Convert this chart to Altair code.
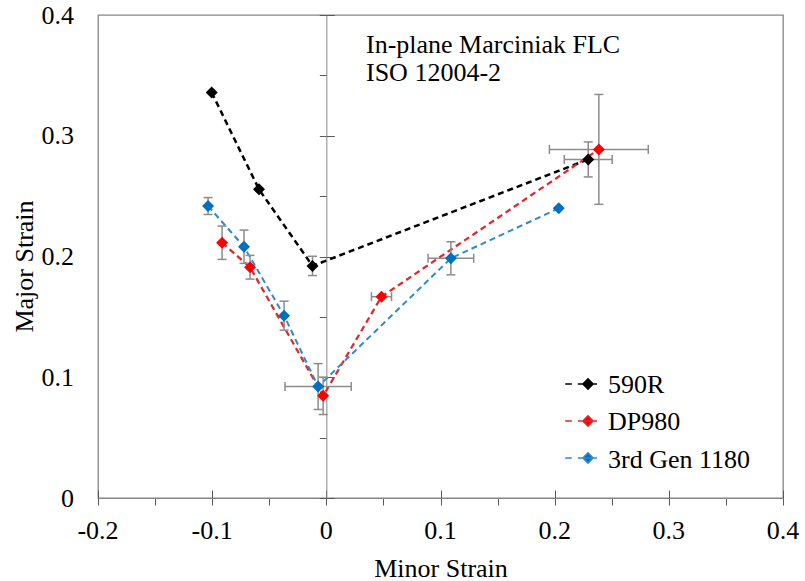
import altair as alt
import pandas as pd

# ---------------- data ----------------
series_names = ["590R", "DP980", "3rd Gen 1180"]
marker_colors = ["#000000", "#FF0000", "#0070C0"]
line_colors = ["#000000", "#E3262B", "#2E8BC9"]

r590_minor = [-0.1004, -0.0590, -0.0121, 0.2294]
r590_major = [0.3358, 0.2556, 0.1922, 0.2804]
r590_minor_err = [0, 0, 0, 0.021]
r590_major_err = [0, 0, 0.008, 0.0145]

dp980_minor = [-0.0913, -0.0668, -0.0028, 0.0483, 0.2387]
dp980_major = [0.2114, 0.1911, 0.0846, 0.1667, 0.2887]
dp980_minor_err = [0, 0, 0, 0.0088, 0.0433]
dp980_major_err = [0.0138, 0.0098, 0.0155, 0, 0.0455]

gen3_minor = [-0.1036, -0.0721, -0.0370, -0.0072, 0.1091, 0.2036]
gen3_major = [0.2418, 0.2081, 0.1510, 0.0923, 0.1985, 0.2399]
gen3_minor_err = [0, 0, 0, 0.029, 0.020, 0]
gen3_major_err = [0.007, 0.0138, 0.012, 0.019, 0.0137, 0]

x_ticks_all = [-0.2, -0.15, -0.1, -0.05, 0, 0.05, 0.1, 0.15, 0.2, 0.25, 0.3, 0.35, 0.4]
x_ticks_major = [-0.2, -0.1, 0, 0.1, 0.2, 0.3, 0.4]
x_tick_labels = ["-0.2", "-0.1", "0", "0.1", "0.2", "0.3", "0.4"]
y_ticks_all = [0, 0.05, 0.1, 0.15, 0.2, 0.25, 0.3, 0.35, 0.4]
y_ticks_major = [0, 0.1, 0.2, 0.3, 0.4]
y_tick_labels = ["0", "0.1", "0.2", "0.3", "0.4"]

annotation_lines = ["In-plane Marciniak FLC", "ISO 12004-2"]
x_title = "Minor Strain"
y_title = "Major Strain"

# ---------------- tables ----------------
rows = []
for name, xs, ys, xe, ye in [
    (series_names[0], r590_minor, r590_major, r590_minor_err, r590_major_err),
    (series_names[1], dp980_minor, dp980_major, dp980_minor_err, dp980_major_err),
    (series_names[2], gen3_minor, gen3_major, gen3_minor_err, gen3_major_err),
]:
    for i in range(len(xs)):
        rows.append({"series": name, "idx": i, "minor": xs[i], "major": ys[i],
                     "xerr": xe[i], "yerr": ye[i]})
df = pd.DataFrame(rows)
df["xlo"] = df["minor"] - df["xerr"]
df["xhi"] = df["minor"] + df["xerr"]
df["ylo"] = df["major"] - df["yerr"]
df["yhi"] = df["major"] + df["yerr"]

df_y = df[df["yerr"] > 0].copy()
df_x = df[df["xerr"] > 0].copy()
ycaps = pd.concat([
    pd.DataFrame({"minor": df_y["minor"], "major": df_y["ylo"]}),
    pd.DataFrame({"minor": df_y["minor"], "major": df_y["yhi"]}),
])
xcaps = pd.concat([
    pd.DataFrame({"minor": df_x["xlo"], "major": df_x["major"]}),
    pd.DataFrame({"minor": df_x["xhi"], "major": df_x["major"]}),
])
xlab_df = pd.DataFrame({"v": x_ticks_major, "t": x_tick_labels})
ylab_df = pd.DataFrame({"v": y_ticks_major, "t": y_tick_labels})

# ---------------- styles ----------------
FONT = "Liberation Serif"
FS = 26
AX_GRAY = "#868686"
TICK_GRAY = "#595959"
ERR_GRAY = "#8C8C8C"
W, H = 685, 483
X0_PIX = W * (0.2 / 0.6)  # pixel position of minor = 0
LEG_X, LEG_Y, LEG_ROW = 477, 356, 37.5

xscale = alt.Scale(domain=[-0.2, 0.4], nice=False, zero=False)
yscale = alt.Scale(domain=[0, 0.4], nice=False, zero=False)

axis_x_main = alt.Axis(
    orient="bottom", values=x_ticks_all, tickSize=7, tickColor=TICK_GRAY,
    domain=True, domainColor=AX_GRAY, grid=False, labels=False,
    title=x_title, titleFont=FONT, titleFontSize=FS, titleFontWeight="normal",
    titleColor="black", titleX=W / 2, titleY=78, titleAlign="center",
    titleBaseline="alphabetic",
)
axis_x_cross = alt.Axis(
    orient="top", offset=-H, values=x_ticks_major, tickSize=8, tickColor=TICK_GRAY,
    domain=False, labels=False, grid=False, title=None,
)
axis_y_main = alt.Axis(
    orient="left", values=y_ticks_major, ticks=False, tickSize=0, domain=False, grid=False,
    labels=False,
    title=y_title, titleFont=FONT, titleFontSize=FS, titleFontWeight="normal",
    titleColor="black", titleX=-66, titleY=251, titleAngle=270,
    titleAlign="center", titleBaseline="alphabetic",
)
axis_y_center = alt.Axis(
    orient="left", offset=-X0_PIX, values=y_ticks_all, tickSize=7, tickColor=TICK_GRAY,
    domain=True, domainColor=AX_GRAY, labels=False, grid=False, title=None,
)
axis_y_center_r = alt.Axis(
    orient="right", offset=-(W - X0_PIX), values=y_ticks_major, tickSize=8,
    tickColor=TICK_GRAY, domain=False, labels=False, grid=False, title=None,
)

legend_path = "M-3.8,0L-2.7,0M-1.7,0L1.5,0M0,-0.85L0.85,0L0,0.85L-0.85,0Z"
legend_def = alt.Legend(
    orient="none", legendX=LEG_X, legendY=LEG_Y, title=None,
    labelFont=FONT, labelFontSize=FS, labelColor="black", labelOpacity=0,
    symbolSize=144, labelOffset=7, rowPadding=11, padding=0,
)

# ---------------- layers ----------------
lines = alt.Chart(df).mark_line(strokeDash=[6, 4]).encode(
    x=alt.X("minor:Q", scale=xscale, axis=axis_x_cross),
    y=alt.Y("major:Q", scale=yscale, axis=axis_y_center),
    stroke=alt.Stroke("series:N", scale=alt.Scale(domain=series_names, range=line_colors), legend=None),
    strokeWidth=alt.StrokeWidth("series:N", scale=alt.Scale(domain=series_names, range=[2.5, 2, 2]), legend=None),
    order=alt.Order("idx:Q"),
)

vbars = alt.Chart(df_y).mark_rule(color=ERR_GRAY, strokeWidth=1.5).encode(
    x=alt.X("minor:Q", scale=xscale, axis=axis_x_main),
    y=alt.Y("ylo:Q", scale=yscale, axis=axis_y_main),
    y2="yhi:Q",
)

hbars = alt.Chart(df_x).mark_rule(color=ERR_GRAY, strokeWidth=1.5).encode(
    x=alt.X("xlo:Q", scale=xscale, axis=None),
    x2="xhi:Q",
    y=alt.Y("major:Q", scale=yscale, axis=axis_y_center_r),
)

ycap_layer = alt.Chart(ycaps).mark_tick(orient="horizontal", size=9, thickness=1.5, color=ERR_GRAY, opacity=1).encode(
    x=alt.X("minor:Q", scale=xscale, axis=None),
    y=alt.Y("major:Q", scale=yscale, axis=None),
)
xcap_layer = alt.Chart(xcaps).mark_tick(orient="vertical", size=9, thickness=1.5, color=ERR_GRAY, opacity=1).encode(
    x=alt.X("minor:Q", scale=xscale, axis=None),
    y=alt.Y("major:Q", scale=yscale, axis=None),
)

points = alt.Chart(df).mark_point(shape="diamond", filled=True, size=144, opacity=1).encode(
    x=alt.X("minor:Q", scale=xscale, axis=None),
    y=alt.Y("major:Q", scale=yscale, axis=None),
    color=alt.Color("series:N", scale=alt.Scale(domain=series_names, range=marker_colors), legend=None),
)

legend_layer = alt.Chart(df).transform_filter("false").mark_point(filled=True, strokeWidth=2, opacity=1).encode(
    x=alt.X("minor:Q", scale=xscale, axis=None),
    y=alt.Y("major:Q", scale=yscale, axis=None),
    color=alt.Color("series:N", scale=alt.Scale(domain=series_names, range=marker_colors), legend=legend_def),
    stroke=alt.Stroke("series:N", scale=alt.Scale(domain=series_names, range=line_colors), legend=legend_def),
    shape=alt.Shape("series:N", scale=alt.Scale(domain=series_names, range=[legend_path] * 3), legend=legend_def),
)

# tick labels drawn as text through the axis scales (serif font)
x_labels = alt.Chart(xlab_df).mark_text(
    align="center", baseline="alphabetic", font=FONT, fontSize=FS, color="black",
).encode(
    x=alt.X("v:Q", scale=xscale, axis=None), y=alt.value(H + 41), text="t:N",
)
y_labels = alt.Chart(ylab_df).mark_text(
    align="right", baseline="alphabetic", font=FONT, fontSize=FS, color="black", dy=8.6,
).encode(
    y=alt.Y("v:Q", scale=yscale, axis=None), x=alt.value(-24), text="t:N",
)

# legend labels (serif) next to the legend symbols
leg_lab_df = pd.DataFrame({"t": series_names,
                           "py": [LEG_Y + 13 + 8.6 + LEG_ROW * i for i in range(len(series_names))]})
legend_labels = alt.Chart(leg_lab_df).mark_text(
    align="left", baseline="alphabetic", font=FONT, fontSize=FS, color="black",
).encode(
    x=alt.value(LEG_X + 33), y=alt.Y("py:Q", scale=None), text="t:N",
)

note = alt.Chart(pd.DataFrame({"note": ["\n".join(annotation_lines)]})).mark_text(
    align="left", baseline="alphabetic", font=FONT, fontSize=FS, color="black",
    lineBreak="\n", lineHeight=28,
).encode(
    x=alt.value(268), y=alt.value(38), text="note:N",
)

chart = alt.layer(
    lines, vbars, hbars, ycap_layer, xcap_layer, points, legend_layer,
    x_labels, y_labels, legend_labels, note
).resolve_axis(
    x="independent", y="independent"
).resolve_scale(
    color="independent", stroke="independent", shape="independent", strokeWidth="independent"
).properties(
    width=W, height=H,
    padding={"left": 98, "top": 15, "right": 22, "bottom": 83},
    autosize=alt.AutoSizeParams(type="none"),
    background="white",
).configure_view(
    stroke=AX_GRAY, strokeWidth=1.3
)

chart.save("out.html", embed_options={"renderer": "svg", "actions": False})
